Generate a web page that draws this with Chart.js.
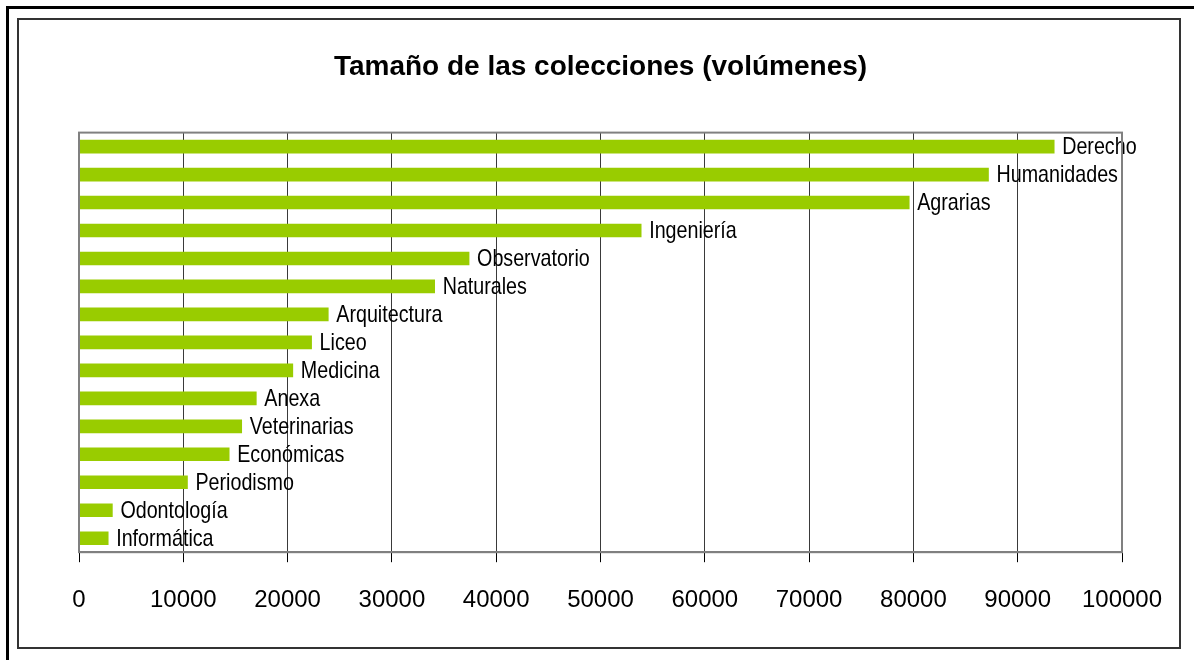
<!DOCTYPE html>
<html>
<head>
<meta charset="utf-8">
<script src="https://cdn.jsdelivr.net/npm/chart.js@4.4.1/dist/chart.umd.min.js"></script>
<style>
  html, body { margin: 0; padding: 0; background: #fff; }
  #wrap { width: 1194px; height: 660px; position: relative; }
</style>
</head>
<body>
<div id="wrap"><canvas id="colecciones"></canvas></div>
<script>
// datos
var facultades = ["Derecho", "Humanidades", "Agrarias", "Ingeniería", "Observatorio", "Naturales",
    "Arquitectura", "Liceo", "Medicina", "Anexa", "Veterinarias", "Económicas", "Periodismo",
    "Odontología", "Informática"];
var volumenes = [93500, 87200, 79600, 53900, 37400, 34100, 23900, 22300, 20500, 17000, 15600,
    14400, 10400, 3200, 2800];
var ticksX = [0, 10000, 20000, 30000, 40000, 50000, 60000, 70000, 80000, 90000, 100000];

var fuente = "'Liberation Sans', Arial, sans-serif";

// marco de la imagen y borde del area de trazado
var marco = {
    id: "marco",
    beforeDraw: function (chart) {
        var ctx = chart.ctx;
        ctx.save();
        ctx.fillStyle = "#fff";
        ctx.fillRect(0, 0, chart.width, chart.height);
        ctx.strokeStyle = "#000";
        ctx.lineWidth = 3;
        ctx.beginPath();
        ctx.moveTo(7.5, chart.height);
        ctx.lineTo(7.5, 7.5);
        ctx.lineTo(chart.width, 7.5);
        ctx.stroke();
        ctx.strokeStyle = "#333";
        ctx.lineWidth = 2;
        ctx.strokeRect(18, 19, 1162, 629);
        ctx.restore();
    },
    afterDraw: function (chart) {
        var a = chart.chartArea;
        var ctx = chart.ctx;
        ctx.save();
        ctx.strokeStyle = "#808080";
        ctx.lineWidth = 2;
        ctx.strokeRect(a.left, a.top, a.right - a.left, a.bottom - a.top);
        ctx.restore();
    }
};

// etiqueta de cada barra a su derecha (letra estrecha como en el original)
var etiquetas = {
    id: "etiquetas",
    afterDatasetsDraw: function (chart) {
        var ctx = chart.ctx;
        var meta = chart.getDatasetMeta(0);
        var escala = 0.82;
        ctx.save();
        ctx.font = "24px " + fuente;
        ctx.fillStyle = "#000";
        ctx.textBaseline = "middle";
        meta.data.forEach(function (barra, i) {
            ctx.save();
            ctx.translate(barra.x + 8, barra.y + 1);
            ctx.scale(escala, 1);
            ctx.fillText(facultades[i], 0, 0);
            ctx.restore();
        });
        ctx.restore();
    }
};

function cargaGrafico() {
    var datos = {
        labels: facultades,
        datasets: [{
            label: "Volúmenes",
            data: volumenes,
            backgroundColor: "#99CC00",
            barThickness: 13
        }]
    };

    var config = {
        type: "bar",
        data: datos,
        plugins: [marco, etiquetas],
        options: {
            indexAxis: "y",
            responsive: true,
            maintainAspectRatio: false,
            animation: false,
            layout: { padding: { left: 79, right: 72, top: 20, bottom: 21 } },
            plugins: {
                legend: { display: false },
                tooltip: { enabled: false },
                title: {
                    display: true,
                    text: "Tamaño de las colecciones (volúmenes)",
                    color: "#000",
                    font: { family: fuente, size: 28, weight: "bold" },
                    padding: { top: 30, bottom: 49 }
                }
            },
            scales: {
                x: {
                    min: 0,
                    max: 100000,
                    afterBuildTicks: function (axis) {
                        axis.ticks = ticksX.map(function (v) { return { value: v }; });
                    },
                    grid: { color: "#3a3a3a", lineWidth: 1, tickLength: 10, tickColor: "#000" },
                    border: { color: "#808080", width: 2 },
                    ticks: {
                        color: "#000",
                        padding: 24,
                        maxRotation: 0,
                        font: { family: fuente, size: 24 },
                        callback: function (v) { return String(v); }
                    }
                },
                y: {
                    grid: { display: false, drawTicks: false },
                    border: { color: "#808080", width: 2 },
                    ticks: { display: false }
                }
            }
        }
    };
    new Chart(document.getElementById("colecciones").getContext("2d"), config);
}

cargaGrafico();
</script>
</body>
</html>
